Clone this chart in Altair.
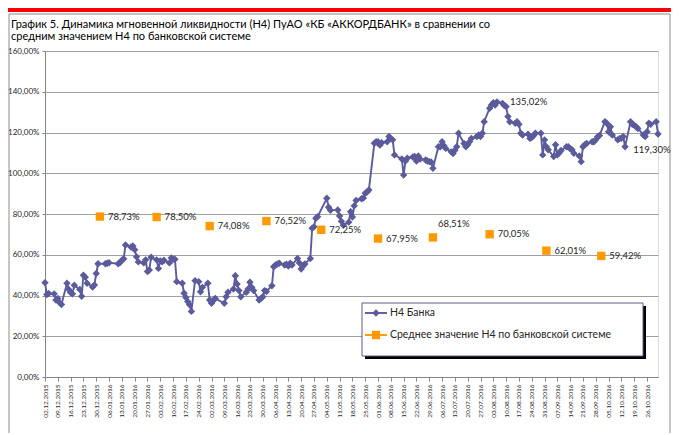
import altair as alt
import pandas as pd

# ---------------- data ----------------
bank_dates = [
    "2015-12-02", "2015-12-03", "2015-12-04", "2015-12-07", "2015-12-08", "2015-12-09", "2015-12-10", "2015-12-11",
    "2015-12-14", "2015-12-15", "2015-12-16", "2015-12-17", "2015-12-18", "2015-12-21", "2015-12-22", "2015-12-23",
    "2015-12-24", "2015-12-25", "2015-12-28", "2015-12-29", "2015-12-30", "2015-12-31",
    "2016-01-04", "2016-01-05", "2016-01-06", "2016-01-11", "2016-01-12", "2016-01-13", "2016-01-14", "2016-01-15",
    "2016-01-18", "2016-01-19", "2016-01-20", "2016-01-21", "2016-01-22", "2016-01-25", "2016-01-26", "2016-01-27",
    "2016-01-28", "2016-01-29",
    "2016-02-01", "2016-02-02", "2016-02-03", "2016-02-04", "2016-02-05", "2016-02-08", "2016-02-09", "2016-02-10",
    "2016-02-11", "2016-02-12", "2016-02-15", "2016-02-16", "2016-02-17", "2016-02-18", "2016-02-19", "2016-02-20",
    "2016-02-22", "2016-02-24", "2016-02-25", "2016-02-26", "2016-02-29",
    "2016-03-01", "2016-03-02", "2016-03-03", "2016-03-04", "2016-03-09", "2016-03-10", "2016-03-11", "2016-03-14",
    "2016-03-15", "2016-03-16", "2016-03-17", "2016-03-18", "2016-03-21", "2016-03-22", "2016-03-23", "2016-03-24",
    "2016-03-25", "2016-03-28", "2016-03-29", "2016-03-30", "2016-03-31",
    "2016-04-01", "2016-04-04", "2016-04-05", "2016-04-06", "2016-04-07", "2016-04-08", "2016-04-11", "2016-04-12",
    "2016-04-13", "2016-04-14", "2016-04-15", "2016-04-18", "2016-04-19", "2016-04-20", "2016-04-21", "2016-04-22",
    "2016-04-25", "2016-04-26", "2016-04-27", "2016-04-28", "2016-04-29",
    "2016-05-04", "2016-05-05", "2016-05-06", "2016-05-10", "2016-05-11", "2016-05-12", "2016-05-13", "2016-05-16",
    "2016-05-17", "2016-05-18", "2016-05-19", "2016-05-20", "2016-05-23", "2016-05-24", "2016-05-25", "2016-05-26",
    "2016-05-27", "2016-05-30", "2016-05-31",
    "2016-06-01", "2016-06-02", "2016-06-03", "2016-06-06", "2016-06-07", "2016-06-08", "2016-06-09", "2016-06-10",
    "2016-06-14", "2016-06-15", "2016-06-16", "2016-06-17", "2016-06-20", "2016-06-21", "2016-06-22", "2016-06-23",
    "2016-06-24", "2016-06-27", "2016-06-28", "2016-06-29", "2016-06-30",
    "2016-07-01", "2016-07-04", "2016-07-05", "2016-07-06", "2016-07-07", "2016-07-08", "2016-07-11", "2016-07-12",
    "2016-07-13", "2016-07-14", "2016-07-15", "2016-07-18", "2016-07-19", "2016-07-20", "2016-07-21", "2016-07-22",
    "2016-07-25", "2016-07-26", "2016-07-27", "2016-07-28", "2016-07-29",
    "2016-08-01", "2016-08-02", "2016-08-03", "2016-08-04", "2016-08-05", "2016-08-08", "2016-08-09", "2016-08-10",
    "2016-08-11", "2016-08-12", "2016-08-15", "2016-08-16", "2016-08-17", "2016-08-18", "2016-08-19", "2016-08-22",
    "2016-08-23", "2016-08-24", "2016-08-25", "2016-08-26", "2016-08-29", "2016-08-30", "2016-08-31",
    "2016-09-01", "2016-09-02", "2016-09-05", "2016-09-06", "2016-09-07", "2016-09-08", "2016-09-09", "2016-09-12",
    "2016-09-13", "2016-09-14", "2016-09-15", "2016-09-16", "2016-09-19", "2016-09-20", "2016-09-21", "2016-09-22",
    "2016-09-23", "2016-09-26", "2016-09-27", "2016-09-28", "2016-09-29", "2016-09-30",
    "2016-10-03", "2016-10-04", "2016-10-05", "2016-10-06", "2016-10-07", "2016-10-10", "2016-10-11", "2016-10-12",
    "2016-10-13", "2016-10-14", "2016-10-17", "2016-10-18", "2016-10-19", "2016-10-20", "2016-10-21", "2016-10-24",
    "2016-10-25", "2016-10-26", "2016-10-27", "2016-10-28", "2016-10-31", "2016-11-01",
]
bank_values = [
    46.3, 40.5, 41.0, 40.8, 37.8, 38.5, 36.5, 35.6,
    46.0, 43.0, 41.5, 40.8, 45.0, 43.0, 39.6, 50.0,
    49.0, 46.0, 44.2, 45.2, 50.8, 55.6,
    55.6, 55.8, 56.1, 55.6, 56.2, 57.3, 58.0, 64.8,
    63.8, 64.3, 62.5, 59.0, 56.5, 56.0, 57.5, 51.8,
    52.5, 58.8,
    57.5, 53.3, 57.0, 56.5, 57.3, 56.0, 58.4, 57.8,
    57.8, 46.8, 46.0, 41.1, 39.0, 37.0, 35.5, 32.2,
    47.3, 46.8, 41.8, 44.0, 46.0,
    37.8, 36.2, 37.5, 38.6, 36.2, 39.4, 41.6, 43.2,
    49.7, 45.6, 42.4, 39.4, 41.6, 43.2, 46.5, 44.0,
    42.4, 37.8, 38.5, 39.4, 42.4,
    42.0, 44.8, 54.1, 55.0, 55.5, 55.8, 55.0, 55.3,
    54.5, 55.8, 55.0, 58.2, 56.0, 53.0, 54.5, 55.5,
    58.2, 73.0, 73.7, 77.9, 78.7,
    87.7, 83.3, 81.8, 82.0, 79.0, 76.4, 74.5, 76.0,
    81.1, 78.5, 84.0, 86.6, 87.5, 87.8, 90.2, 90.8,
    91.8, 114.7, 115.5,
    115.5, 113.8, 115.0, 115.5, 118.0, 117.0, 116.4, 109.0,
    107.0, 99.1, 106.0, 107.4, 108.0, 108.2, 106.0, 108.5,
    107.0, 106.5, 106.0, 105.7, 105.5,
    102.4, 113.0, 113.0, 115.5, 113.5, 112.2, 110.5, 109.7,
    111.3, 113.0, 119.6, 114.6, 113.0, 114.0, 115.5, 117.1,
    118.0, 118.8, 118.0, 119.6, 125.3,
    131.9, 133.5, 134.6, 133.5, 135.02, 134.3, 133.2, 132.7,
    127.8, 125.3, 124.5, 125.3, 124.0, 119.6, 118.8, 119.2,
    117.1, 117.5, 118.5, 119.6, 119.6, 109.0, 116.4,
    113.0, 111.5, 108.2, 114.0, 109.0, 110.0, 111.2, 113.0,
    113.0, 112.0, 111.5, 109.8, 108.5, 105.7, 113.0, 114.0,
    114.6, 115.5, 115.5, 116.5, 117.9, 118.5,
    125.3, 124.5, 120.4, 122.8, 118.8, 116.4, 117.0, 117.2,
    118.0, 113.0, 125.3, 124.0, 123.6, 122.8, 122.0, 118.8,
    118.0, 120.4, 124.5, 124.0, 125.3, 119.30,
]

avg_dates = ["2016-01-01", "2016-02-01", "2016-03-01", "2016-04-01", "2016-05-01",
             "2016-06-01", "2016-07-01", "2016-08-01", "2016-09-01", "2016-10-01"]
avg_values = [78.73, 78.50, 74.08, 76.52, 72.25, 67.95, 68.51, 70.05, 62.01, 59.42]

annot_dates = ["2016-08-05", "2016-11-01"]

series_bank = "Н4 Банка"
series_avg = "Среднее значение Н4 по банковской системе"
title_lines = ["График 5. Динамика мгновенной ликвидности (Н4) ПуАО «КБ «АККОРДБАНК»  в сравнении со",
               "средним значением Н4 по банковской системе"]
y_ticks = [0, 20, 40, 60, 80, 100, 120, 140, 160]


def pct(v):
    return f"{v:.2f}".replace(".", ",") + "%"


def ms(d):
    return int(pd.Timestamp(d, tz="UTC").value // 10**6)


bank_df = pd.DataFrame({"date": bank_dates, "value": bank_values})
avg_df = pd.DataFrame({"date": avg_dates, "value": avg_values,
                       "label": [pct(v) for v in avg_values]})
ann_df = bank_df[bank_df["date"].isin(annot_dates)].copy()
ann_df["label"] = [pct(v) for v in ann_df["value"]]

tick_ms = [ms(d) for d in pd.date_range("2015-12-02", "2016-10-26", freq="7D")]

FONT = "Liberation Sans Narrow, Lato, sans-serif"
LINE_COLOR = "#5b5b9c"
ORANGE = "#ff9900"
AXIS_COLOR = "#868686"
TXT = "#262626"

W, H = 613, 326

x_enc = alt.X(
    "date:T",
    scale=alt.Scale(type="utc", domain=[ms("2015-12-02"), ms("2016-11-01")]),
    axis=alt.Axis(values=tick_ms, labelExpr="utcFormat(datum.value, '%d.%m.%Y')",
                  labelAngle=270, labelAlign="right", labelBaseline="middle",
                  labelFontSize=6.5, labelFont=FONT, labelColor=TXT, labelPadding=3,
                  tickSize=4, tickColor=AXIS_COLOR, domainColor=AXIS_COLOR,
                  labelOverlap=False, labelBound=False, labelFlush=False,
                  grid=False, title=None),
)
y_enc = alt.Y(
    "value:Q",
    scale=alt.Scale(domain=[0, 160], nice=False, zero=True),
    axis=alt.Axis(values=y_ticks, labelExpr="replace(format(datum.value, '.2f'), '.', ',') + '%'",
                  labelFontSize=8, labelFont=FONT, labelColor=TXT, labelPadding=3,
                  tickSize=3, tickColor=AXIS_COLOR, domainColor=AXIS_COLOR,
                  grid=True, gridColor="#a0a0a0", gridWidth=1.2, title=None),
)

one = pd.DataFrame({"a": [0]})

# decorations: red band and frame
red_band = alt.Chart(one).mark_rect(color="#ff0000").encode(
    x=alt.value(-37), x2=alt.value(W + 13), y=alt.value(-43), y2=alt.value(-39))
frame = alt.Chart(one).mark_rect(fill=None, stroke="#8c8c8c", strokeWidth=1).encode(
    x=alt.value(-36), x2=alt.value(W + 12), y=alt.value(-37), y2=alt.value(H + 120))

bank_line = alt.Chart(bank_df).mark_line(
    color=LINE_COLOR, strokeWidth=1.9,
    point=alt.OverlayMarkDef(shape="diamond", size=55, filled=True, color=LINE_COLOR),
).encode(x=x_enc, y=y_enc)

avg_pts = alt.Chart(avg_df).mark_point(shape="square", size=70, filled=True, color=ORANGE, opacity=1).encode(
    x=x_enc, y=y_enc)

avg_lbl = alt.Chart(avg_df).transform_filter("datum.value != 68.51").mark_text(
    align="left", baseline="middle", dx=8, fontSize=9.5, font=FONT, color=TXT).encode(
    x=x_enc, y=y_enc, text="label:N")
avg_lbl2 = alt.Chart(avg_df).transform_filter("datum.value == 68.51").mark_text(
    align="left", baseline="middle", dx=5, dy=-13, fontSize=9.5, font=FONT, color=TXT).encode(
    x=x_enc, y=y_enc, text="label:N")

ann_max = alt.Chart(ann_df).transform_filter("datum.value > 130").mark_text(
    align="left", baseline="middle", dx=13, fontSize=9.5, font=FONT, color=TXT).encode(
    x=x_enc, y=y_enc, text="label:N")
ann_last = alt.Chart(ann_df).transform_filter("datum.value < 130").mark_text(
    align="center", baseline="middle", dx=-6, dy=16, fontSize=9.5, font=FONT, color=TXT).encode(
    x=x_enc, y=y_enc, text="label:N")

# legend (drawn)
LX0, LX1, LY0, LY1 = 317, 598, 252, 305
leg_shadow = alt.Chart(one).mark_rect(color="#000000").encode(
    x=alt.value(LX0 + 3), x2=alt.value(LX1 + 3), y=alt.value(LY0 + 3), y2=alt.value(LY1 + 3))
leg_box = alt.Chart(one).mark_rect(fill="white", stroke="#5b5b8c", strokeWidth=1).encode(
    x=alt.value(LX0), x2=alt.value(LX1), y=alt.value(LY0), y2=alt.value(LY1))
leg_rule1 = alt.Chart(one).mark_rule(color=LINE_COLOR, strokeWidth=1.9).encode(
    x=alt.value(320), x2=alt.value(342), y=alt.value(262))
leg_pt1 = alt.Chart(one).mark_point(shape="diamond", size=55, filled=True, color=LINE_COLOR, opacity=1).encode(
    x=alt.value(331), y=alt.value(262))
leg_rule2 = alt.Chart(one).mark_rule(color=ORANGE, strokeWidth=1.9).encode(
    x=alt.value(320), x2=alt.value(342), y=alt.value(284))
leg_pt2 = alt.Chart(one).mark_point(shape="square", size=70, filled=True, color=ORANGE, opacity=1).encode(
    x=alt.value(331), y=alt.value(284))
leg_txt1 = alt.Chart(one).mark_text(align="left", baseline="middle", fontSize=10.5, font=FONT, color=TXT,
                                    text=series_bank).encode(x=alt.value(345), y=alt.value(262))
leg_txt2 = alt.Chart(one).mark_text(align="left", baseline="middle", fontSize=10.5, font=FONT, color=TXT,
                                    text=series_avg).encode(x=alt.value(345), y=alt.value(284))

title1 = alt.Chart(one).mark_text(align="left", baseline="alphabetic", fontSize=11, font=FONT, color="#000000",
                                  text=title_lines[0]).encode(x=alt.value(-34), y=alt.value(-23))
title2 = alt.Chart(one).mark_text(align="left", baseline="alphabetic", fontSize=11, font=FONT, color="#000000",
                                  text=title_lines[1]).encode(x=alt.value(-34), y=alt.value(-11))

chart = alt.layer(
    red_band, frame, bank_line, avg_pts, avg_lbl, avg_lbl2, ann_max, ann_last,
    leg_shadow, leg_box, leg_rule1, leg_pt1, leg_rule2, leg_pt2, leg_txt1, leg_txt2,
    title1, title2,
).properties(
    width=W, height=H,
    autosize=alt.AutoSizeParams(type="none"),
    padding={"left": 37, "top": 43, "right": 13, "bottom": 56},
).configure_view(stroke=None).configure(background="white")

chart.save("out.html", embed_options={"renderer": "svg", "actions": False})
